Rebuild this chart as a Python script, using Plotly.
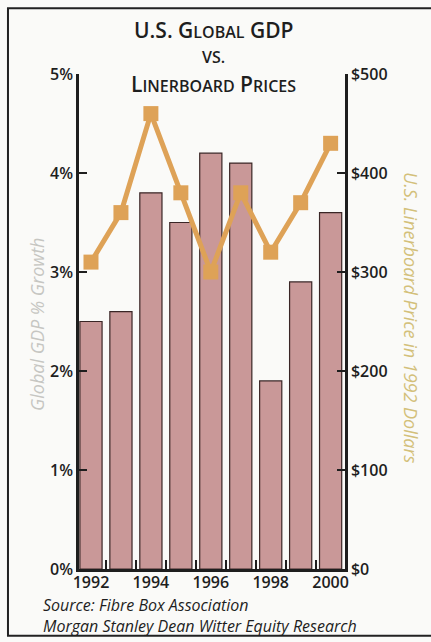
import plotly.graph_objects as go

# Data
years = ["1992", "1993", "1994", "1995", "1996", "1997", "1998", "1999", "2000"]
gdp_growth = [2.5, 2.6, 3.8, 3.5, 4.2, 4.1, 1.9, 2.9, 3.6]          # % growth
linerboard_price = [310, 360, 460, 380, 300, 380, 320, 370, 430]    # 1992 dollars
year_labels = ["1992", "", "1994", "", "1996", "", "1998", "", "2000"]
pct_ticks = [0, 1, 2, 3, 4, 5]
price_ticks = [0, 100, 200, 300, 400, 500]

FONT = "Open Sans"
INK = "#1e1e1e"

fig = go.Figure()

fig.add_trace(go.Bar(
    x=years, y=gdp_growth, yaxis="y",
    marker=dict(color="#c99898", line=dict(color="#3a2626", width=1.2)),
    showlegend=False,
))

fig.add_trace(go.Scatter(
    x=years, y=linerboard_price, yaxis="y2",
    mode="lines+markers",
    line=dict(color="#dea257", width=5),
    marker=dict(symbol="square", size=15, color="#dea257"),
    showlegend=False,
))

axis_common = dict(
    showgrid=False, zeroline=False, showline=True,
    linecolor=INK, linewidth=2.5, ticks="inside", ticklen=8,
    tickwidth=2, tickcolor=INK,
    tickfont=dict(family=FONT, size=16, color=INK, weight=600),
)

fig.update_layout(
    width=431, height=642,
    margin=dict(l=79, r=86, t=74, b=73),
    paper_bgcolor="#fafaf8",
    plot_bgcolor="rgba(0,0,0,0)",
    bargap=0.26,
    xaxis=dict(
        type="category", range=[-0.4, 8.48],
        tickvals=years, ticktext=year_labels, tickson="boundaries",
        tickangle=0,
        showgrid=False, zeroline=False, showline=True,
        linecolor=INK, linewidth=2.5, ticks="inside", ticklen=9,
        tickwidth=2, tickcolor=INK, ticklabelstandoff=-3,
        tickfont=dict(family=FONT, size=16, color=INK, weight=600),
    ),
    yaxis=dict(range=[0, 5], tickvals=pct_ticks,
               ticktext=[f"{v}%" for v in pct_ticks], **axis_common),
    yaxis2=dict(range=[0, 500], tickvals=price_ticks,
                ticktext=[f"${v}" for v in price_ticks],
                overlaying="y", side="right", **axis_common),
)

# Outer frame of the panel
fig.add_shape(type="rect", xref="paper", yref="paper",
              x0=-0.267, x1=1.36, y0=-0.135, y1=1.133,
              line=dict(color="#222", width=2), layer="above")

# Title in small caps
big, small = 21, 16
title_lines = [
    f"U.S. G<span style='font-size:{small}px'>LOBAL</span> GDP",
    f"<span style='font-size:{small}px'>VS.</span>",
    f"L<span style='font-size:{small}px'>INERBOARD</span> P<span style='font-size:{small}px'>RICES</span>",
]
title_y = [30, 57, 84]
for txt, py in zip(title_lines, title_y):
    fig.add_annotation(
        text=txt, xref="paper", yref="paper",
        x=(213 - 79) / 266, y=(569 - py) / 495,
        xanchor="center", yanchor="middle", showarrow=False,
        font=dict(family=FONT, size=big, color=INK, weight=600),
    )

# Axis titles
fig.add_annotation(
    text="<i>Global GDP % Growth</i>", xref="paper", yref="paper",
    x=(37 - 79) / 266, y=(569 - 325) / 495, textangle=-90,
    xanchor="center", yanchor="middle", showarrow=False,
    font=dict(family=FONT, size=18, color="#c6c6c2"),
)
fig.add_annotation(
    text="<i>U.S. Linerboard Price in 1992 Dollars</i>", xref="paper", yref="paper",
    x=(411 - 79) / 266, y=(569 - 318) / 495, textangle=90,
    xanchor="center", yanchor="middle", showarrow=False,
    font=dict(family=FONT, size=18, color="#d3c07a"),
)

# Source note
fig.add_annotation(
    text="<i>Source: Fibre Box Association<br>Morgan Stanley Dean Witter Equity Research</i>",
    xref="paper", yref="paper",
    x=(41 - 79) / 266, y=(569 - 615) / 495,
    xanchor="left", yanchor="middle", align="left", showarrow=False,
    font=dict(family=FONT, size=16, color=INK),
)

fig.write_html("out.html")
